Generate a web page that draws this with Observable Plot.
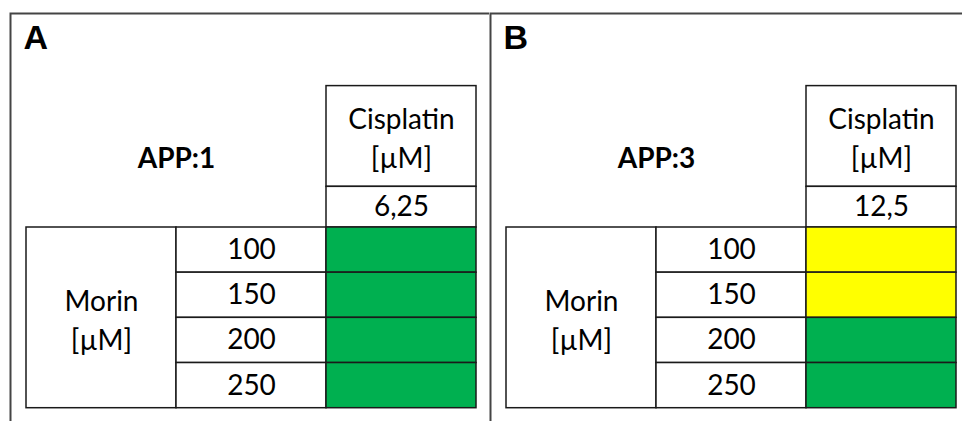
<!DOCTYPE html>
<html>
<head>
<meta charset="utf-8">
<script src="https://cdn.jsdelivr.net/npm/d3@7"></script>
<script src="https://cdn.jsdelivr.net/npm/@observablehq/plot@0.6"></script>
<style>
  html, body { margin: 0; padding: 0; background: #fff; overflow: hidden; }
  #chart { position: relative; width: 962px; height: 421px; overflow: hidden; background: #fff; }
  #chart svg { position: absolute; top: 0; }
</style>
</head>
<body>
<div id="chart"></div>
<script>
// ---- data ----
const panels = ["A", "B"];
const appLabels = ["APP:1", "APP:3"];
const cisplatinDoses = ["6,25", "12,5"];
const morinDoses = ["100", "150", "200", "250"];
const responseA = ["high", "high", "high", "high"];
const responseB = ["moderate", "moderate", "high", "high"];
const responses = [responseA, responseB];
const responseClasses = ["high", "moderate"];
const responseColors = ["#00B050", "#FFFF00"];

// ---- layout (in row units; one Morin row = 1) ----
const columns = ["morin", "dose", "cis"];
const HEADER_TOP = -3.13;
const VALUE_TOP = -0.9;
const APP_Y = -1.525;
const LINE = "#1a1a1a";
const FONT = "Lato, 'Open Sans', sans-serif";

function panel(i) {
  const rows = morinDoses.map((dose, k) => ({dose, k, resp: responses[i][k]}));
  const cell = {stroke: LINE, strokeWidth: 1.5, inset: 0};
  return Plot.plot({
    width: 481,
    height: 440,
    marginLeft: 1,
    marginTop: 13,
    marginRight: 0,
    marginBottom: 0,
    x: {type: "band", domain: columns, range: [16.5, 466.5], padding: 0, axis: null},
    y: {type: "linear", domain: [0, morinDoses.length], range: [227, 407.7], axis: null},
    color: {type: "ordinal", domain: responseClasses, range: responseColors},
    style: {fontFamily: FONT, background: "white", color: "black"},
    marks: [
      Plot.frame({stroke: "#444", strokeWidth: 2}),
      // header box "Cisplatin [µM]"
      Plot.barY([0], {x: () => "cis", y1: HEADER_TOP, y2: VALUE_TOP, fill: "white", ...cell}),
      // cisplatin dose box
      Plot.barY([cisplatinDoses[i]], {x: () => "cis", y1: VALUE_TOP, y2: 0, fill: "white", ...cell}),
      // merged Morin cell
      Plot.barY([0], {x: () => "morin", y1: 0, y2: morinDoses.length, fill: "white", ...cell}),
      // dose cells
      Plot.barY(rows, {x: () => "dose", y1: d => d.k, y2: d => d.k + 1, fill: "white", ...cell}),
      // response cells
      Plot.barY(rows, {x: () => "cis", y1: d => d.k, y2: d => d.k + 1, fill: "resp", ...cell}),
      // texts
      Plot.text(rows, {x: () => "dose", y: d => d.k + 0.5, text: "dose", fontSize: 28, fill: "black"}),
      Plot.text(["Morin\n[µM]"], {x: () => "morin", y: morinDoses.length / 2, text: d => d, fontSize: 28, lineHeight: 1.39, fill: "black"}),
      Plot.text(["Cisplatin\n[µM]"], {x: () => "cis", y: (HEADER_TOP + VALUE_TOP) / 2, text: d => d, fontSize: 28, lineHeight: 1.39, fill: "black"}),
      Plot.text([cisplatinDoses[i]], {x: () => "cis", y: VALUE_TOP / 2, text: d => d, fontSize: 28, fill: "black"}),
      Plot.text([appLabels[i]], {x: () => "morin", dx: 75, y: APP_Y, text: d => d, fontSize: 28, fontWeight: "bold", fill: "black"}),
      Plot.text([panels[i]], {frameAnchor: "top-left", dx: 13, dy: 24.5, text: d => d, textAnchor: "start", lineAnchor: "middle",
        fontFamily: "'Liberation Sans', Arial, sans-serif", fontWeight: "bold", fontSize: 34, fill: "black"})
    ]
  });
}

const chart = document.getElementById("chart");
const lefts = [9, 489];
panels.forEach((p, i) => {
  const svg = panel(i);
  svg.style.left = lefts[i] + "px";
  chart.appendChild(svg);
});
</script>
</body>
</html>
